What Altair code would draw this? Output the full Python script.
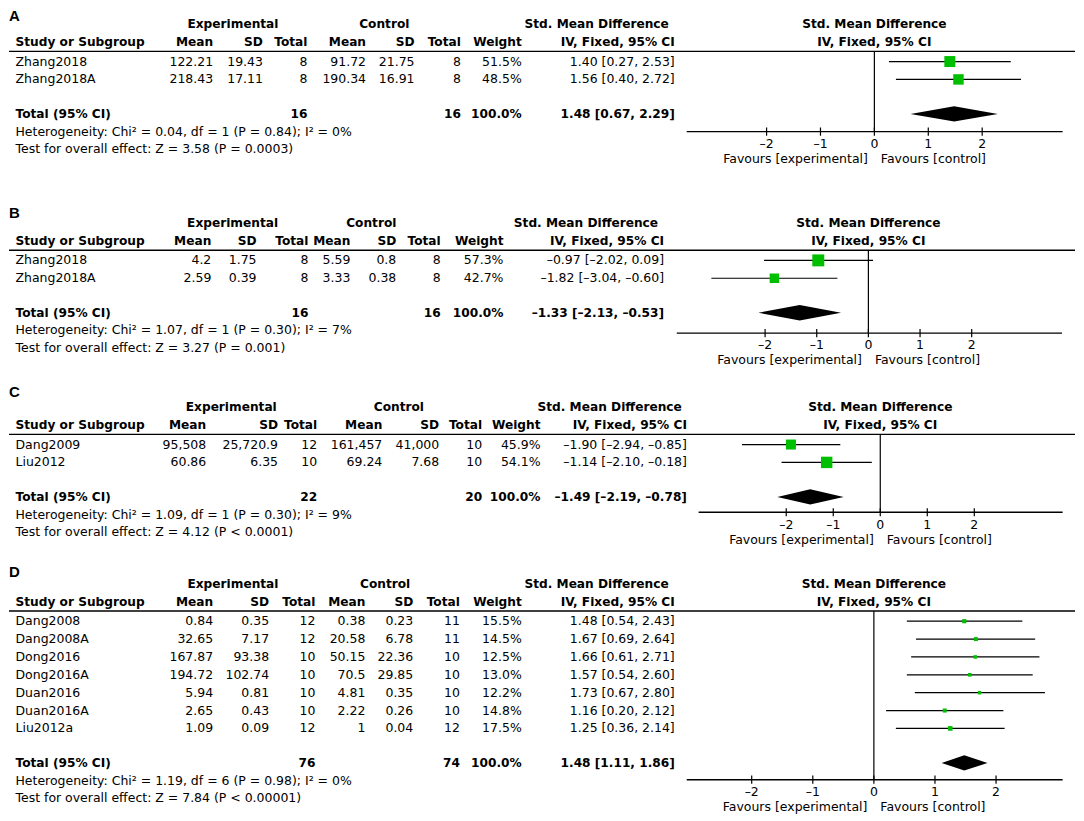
import altair as alt
import pandas as pd

FONT = "DejaVu Sans"
FS = 12.5
FSB = 12.2
GREEN = "#00bf00"
S = 17.9      # line spacing in px
W = 1068
M = 8

TICKS = [-2, -1, 0, 1, 2]
TICK_LABELS = ["–2", "–1", "0", "1", "2"]

# ---------------- Panel A ----------------
A_study = ["Zhang2018", "Zhang2018A"]
A_exp_mean = ["122.21", "218.43"]
A_exp_sd = ["19.43", "17.11"]
A_exp_n = [8, 8]
A_ctl_mean = ["91.72", "190.34"]
A_ctl_sd = ["21.75", "16.91"]
A_ctl_n = [8, 8]
A_weight = [51.5, 48.5]
A_smd = [1.40, 1.56]
A_lo = [0.27, 0.40]
A_hi = [2.53, 2.72]
A_total = [16, 16, 1.48, 0.67, 2.29]
A_het = "Heterogeneity: Chi² = 0.04, df = 1 (P = 0.84); I² = 0%"
A_test = "Test for overall effect: Z = 3.58 (P = 0.0003)"

# ---------------- Panel B ----------------
B_study = ["Zhang2018", "Zhang2018A"]
B_exp_mean = ["4.2", "2.59"]
B_exp_sd = ["1.75", "0.39"]
B_exp_n = [8, 8]
B_ctl_mean = ["5.59", "3.33"]
B_ctl_sd = ["0.8", "0.38"]
B_ctl_n = [8, 8]
B_weight = [57.3, 42.7]
B_smd = [-0.97, -1.82]
B_lo = [-2.02, -3.04]
B_hi = [0.09, -0.60]
B_total = [16, 16, -1.33, -2.13, -0.53]
B_het = "Heterogeneity: Chi² = 1.07, df = 1 (P = 0.30); I² = 7%"
B_test = "Test for overall effect: Z = 3.27 (P = 0.001)"

# ---------------- Panel C ----------------
C_study = ["Dang2009", "Liu2012"]
C_exp_mean = ["95,508", "60.86"]
C_exp_sd = ["25,720.9", "6.35"]
C_exp_n = [12, 10]
C_ctl_mean = ["161,457", "69.24"]
C_ctl_sd = ["41,000", "7.68"]
C_ctl_n = [10, 10]
C_weight = [45.9, 54.1]
C_smd = [-1.90, -1.14]
C_lo = [-2.94, -2.10]
C_hi = [-0.85, -0.18]
C_total = [22, 20, -1.49, -2.19, -0.78]
C_het = "Heterogeneity: Chi² = 1.09, df = 1 (P = 0.30); I² = 9%"
C_test = "Test for overall effect: Z = 4.12 (P < 0.0001)"

# ---------------- Panel D ----------------
D_study = ["Dang2008", "Dang2008A", "Dong2016", "Dong2016A", "Duan2016", "Duan2016A", "Liu2012a"]
D_exp_mean = ["0.84", "32.65", "167.87", "194.72", "5.94", "2.65", "1.09"]
D_exp_sd = ["0.35", "7.17", "93.38", "102.74", "0.81", "0.43", "0.09"]
D_exp_n = [12, 12, 10, 10, 10, 10, 12]
D_ctl_mean = ["0.38", "20.58", "50.15", "70.5", "4.81", "2.22", "1"]
D_ctl_sd = ["0.23", "6.78", "22.36", "29.85", "0.35", "0.26", "0.04"]
D_ctl_n = [11, 11, 10, 10, 10, 10, 12]
D_weight = [15.5, 14.5, 12.5, 13.0, 12.2, 14.8, 17.5]
D_smd = [1.48, 1.67, 1.66, 1.57, 1.73, 1.16, 1.25]
D_lo = [0.54, 0.69, 0.61, 0.54, 0.67, 0.20, 0.36]
D_hi = [2.43, 2.64, 2.71, 2.60, 2.80, 2.12, 2.14]
D_total = [76, 74, 1.48, 1.11, 1.86]
D_het = "Heterogeneity: Chi² = 1.19, df = 6 (P = 0.98); I² = 0%"
D_test = "Test for overall effect: Z = 7.84 (P < 0.00001)"

HDR1 = ["Mean", "SD", "Total", "Mean", "SD", "Total", "Weight"]
COLS = ["em", "esd", "en", "cm", "csd", "cn", "w"]

# layout (image px)
LAYOUT = {
    "A": dict(top=8, h=192, ey=22.3, ly=14.5, axo=0.0,
              cols=[212.5, 262.4, 307, 365.7, 414.3, 460.7, 521.7],
              ci=675, smdr=669, expc=232.4, ctlc=384, zero=875, ppu=54, px=[687, 1063.6], sq=350),
    "B": dict(top=200, h=180, ey=221.5, ly=212, axo=0.15,
              cols=[210.7, 256, 308, 350, 396, 440.5, 503.4],
              ci=664.3, smdr=658.3, expc=232, ctlc=371, zero=869, ppu=51.75, px=[677, 1063], sq=437),
    "C": dict(top=380, h=180, ey=406, ly=391, axo=-0.13,
              cols=[205.6, 277.5, 316.8, 382, 439, 482, 540.5],
              ci=687.2, smdr=682, expc=230.7, ctlc=398.6, zero=880.9, ppu=47.1, px=[698.9, 1063.6], sq=300),
    "D": dict(top=560, h=261, ey=583, ly=571, axo=-0.05,
              cols=[212.5, 268.6, 315, 365, 413, 459.7, 521.7],
              ci=675, smdr=668.9, expc=232.4, ctlc=384.8, zero=874.5, ppu=61.2, px=[687, 1063.6], sq=457),
}


def f2(v):
    return f"{v:.2f}".replace("-", "–")


def ci_text(e, lo, hi):
    return f"{f2(e)} [{f2(lo)}, {f2(hi)}]"


def panel(letter, study, em, esd, en, cm, csd, cn, w, smd, lo, hi, total, het, test):
    L = LAYOUT[letter]
    n = len(study)
    L0 = (L["top"] - L["ey"]) / S
    L1 = (L["top"] + L["h"] - L["ey"]) / S
    ys = alt.Scale(domain=[L0, L1], reverse=True, nice=False, zero=False)
    dom = [(L["px"][0] - L["zero"]) / L["ppu"], (L["px"][1] - L["zero"]) / L["ppu"]]
    xs = alt.Scale(domain=dom, range=[L["px"][0] - M, L["px"][1] - M], nice=False, zero=False)

    def Y(f):
        return alt.Y(f, type="quantitative", scale=ys, axis=None)

    def X(f):
        return alt.X(f, type="quantitative", scale=xs, axis=None)

    def txt(df, field, xpx, align, bold=False, font=FONT, size=None):
        return alt.Chart(df).mark_text(
            align=align, baseline="middle", font=font,
            fontSize=size if size else (FSB if bold else FS),
            fontWeight="bold" if bold else "normal", color="black"
        ).encode(x=alt.value(xpx - M), y=Y("row"), text=alt.Text(f"{field}:N"))

    def ftxt(df, field, align, bold=False, dx=0):
        return alt.Chart(df).mark_text(
            align=align, baseline="middle", font=FONT,
            fontSize=FSB if bold else FS, fontWeight="bold" if bold else "normal",
            color="black", dx=dx
        ).encode(x=X("x"), y=Y("row"), text=alt.Text(f"{field}:N"))

    rows = [2.1 + i for i in range(n)]
    r_tot = n + 3.03
    r_het = n + 4.02
    r_test = n + 5.0
    r_axis = r_het + L["axo"]

    layers = []
    # header rule
    hl = pd.DataFrame({"y": [1.53]})
    layers.append(alt.Chart(hl).mark_rule(color="black", strokeWidth=1.4).encode(
        x=alt.value(0), x2=alt.value(W), y=Y("y")))

    # header row 0
    h0 = pd.DataFrame({"row": [0], "e": ["Experimental"], "c": ["Control"], "s": ["Std. Mean Difference"]})
    layers += [txt(h0, "e", L["expc"], "center", True),
               txt(h0, "c", L["ctlc"], "center", True),
               txt(h0, "s", L["smdr"], "right", True)]
    # header row 1
    h1 = pd.DataFrame({"row": [1], "s": ["Study or Subgroup"], "iv": ["IV, Fixed, 95% CI"],
                       **{c: [h] for c, h in zip(COLS, HDR1)}})
    layers.append(txt(h1, "s", 14.5, "left", True))
    for c, xp in zip(COLS, L["cols"]):
        layers.append(txt(h1, c, xp, "right", True))
    layers.append(txt(h1, "iv", L["ci"], "right", True))

    # data rows
    dt = pd.DataFrame({
        "row": rows, "s": study, "em": em, "esd": esd, "en": [str(v) for v in en],
        "cm": cm, "csd": csd, "cn": [str(v) for v in cn],
        "w": [f"{v:.1f}%" for v in w],
        "ci": [ci_text(a, b, c) for a, b, c in zip(smd, lo, hi)],
    })
    layers.append(txt(dt, "s", 14.5, "left"))
    for c, xp in zip(COLS, L["cols"]):
        layers.append(txt(dt, c, xp, "right"))
    layers.append(txt(dt, "ci", L["ci"], "right"))

    # total row
    tt = pd.DataFrame({"row": [r_tot], "s": ["Total (95% CI)"], "en": [str(total[0])],
                       "cn": [str(total[1])], "w": ["100.0%"],
                       "ci": [ci_text(total[2], total[3], total[4])]})
    layers.append(txt(tt, "s", 14.5, "left", True))
    layers.append(txt(tt, "en", L["cols"][2], "right", True))
    layers.append(txt(tt, "cn", L["cols"][5], "right", True))
    layers.append(txt(tt, "w", L["cols"][6], "right", True))
    layers.append(txt(tt, "ci", L["ci"], "right", True))

    # heterogeneity / test lines
    ht = pd.DataFrame({"row": [r_het, r_test], "s": [het, test]})
    layers.append(txt(ht, "s", 14.5, "left"))

    # panel letter
    lt = pd.DataFrame({"row": [(L["ly"] - L["ey"]) / S], "s": [letter]})
    layers.append(txt(lt, "s", M, "left", True, font="Liberation Sans", size=15))

    # forest header
    fh = pd.DataFrame({"row": [0, 1], "x": [0, 0], "s": ["Std. Mean Difference", "IV, Fixed, 95% CI"]})
    layers.append(ftxt(fh, "s", "center", True))

    # zero line
    zl = pd.DataFrame({"x": [0], "y1": [1.53], "y2": [r_axis]})
    layers.append(alt.Chart(zl).mark_rule(color="black", strokeWidth=1.2).encode(
        x=X("x"), y=Y("y1"), y2="y2"))

    # CI lines + squares
    fd = pd.DataFrame({"row": rows, "smd": smd, "lo": lo, "hi": hi, "wt": w})
    layers.append(alt.Chart(fd).mark_rule(color="black", strokeWidth=1.2).encode(
        x=X("lo"), x2="hi", y=Y("row")))
    layers.append(alt.Chart(fd).mark_square(filled=True, color=GREEN, opacity=1).encode(
        x=X("smd"), y=Y("row"),
        size=alt.Size("wt:Q", scale=alt.Scale(type="pow", exponent=1.6, domain=[0, 100],
                                              range=[0, L["sq"]]), legend=None)))

    # diamond
    hh = 0.43
    dd = pd.DataFrame({"x": [total[3], total[2], total[4]],
                       "yt": [r_tot, r_tot - hh, r_tot], "yb": [r_tot, r_tot + hh, r_tot]})
    layers.append(alt.Chart(dd).mark_area(color="black", orient="vertical", opacity=1).encode(
        x=X("x"), y=Y("yt"), y2="yb"))

    # axis
    ax = pd.DataFrame({"x1": [dom[0]], "x2": [dom[1]], "y": [r_axis]})
    layers.append(alt.Chart(ax).mark_rule(color="black", strokeWidth=1.4).encode(
        x=X("x1"), x2="x2", y=Y("y")))
    tk = pd.DataFrame({"x": TICKS, "y1": [r_axis - 0.23] * 5, "y2": [r_axis + 0.23] * 5,
                       "row": [r_axis + 0.69] * 5, "lab": TICK_LABELS})
    layers.append(alt.Chart(tk).mark_rule(color="black", strokeWidth=1.2).encode(
        x=X("x"), y=Y("y1"), y2="y2"))
    layers.append(ftxt(tk, "lab", "center"))

    fv = pd.DataFrame({"x": [0, 0], "row": [r_axis + 1.53] * 2,
                       "s": ["Favours [experimental]", "Favours [control]"]})
    layers.append(ftxt(fv.iloc[[0]], "s", "right", dx=-6.5))
    layers.append(ftxt(fv.iloc[[1]], "s", "left", dx=6.5))

    return alt.layer(*layers).properties(width=W, height=L["h"])


pA = panel("A", A_study, A_exp_mean, A_exp_sd, A_exp_n, A_ctl_mean, A_ctl_sd, A_ctl_n,
           A_weight, A_smd, A_lo, A_hi, A_total, A_het, A_test)
pB = panel("B", B_study, B_exp_mean, B_exp_sd, B_exp_n, B_ctl_mean, B_ctl_sd, B_ctl_n,
           B_weight, B_smd, B_lo, B_hi, B_total, B_het, B_test)
pC = panel("C", C_study, C_exp_mean, C_exp_sd, C_exp_n, C_ctl_mean, C_ctl_sd, C_ctl_n,
           C_weight, C_smd, C_lo, C_hi, C_total, C_het, C_test)
pD = panel("D", D_study, D_exp_mean, D_exp_sd, D_exp_n, D_ctl_mean, D_ctl_sd, D_ctl_n,
           D_weight, D_smd, D_lo, D_hi, D_total, D_het, D_test)

chart = alt.vconcat(pA, pB, pC, pD, spacing=0, bounds="flush").properties(
    padding=0, background="white"
).configure_view(strokeWidth=0)

chart.save("out.html", embed_options={"renderer": "svg", "actions": False})
